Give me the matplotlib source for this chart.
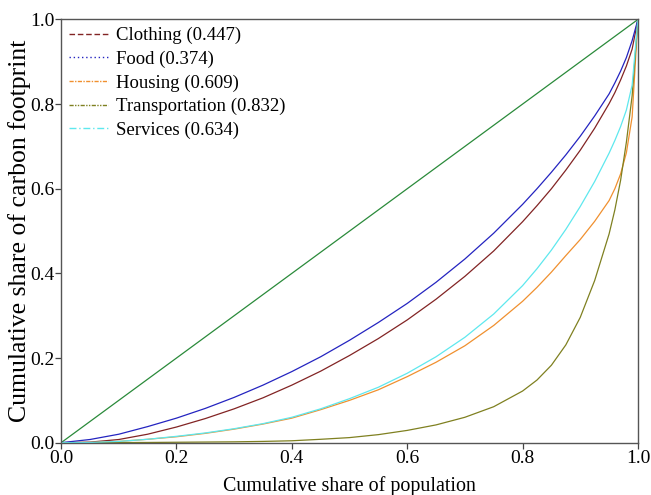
import matplotlib
matplotlib.use("Agg")
import matplotlib.pyplot as plt
from matplotlib.lines import Line2D

plt.rcParams['font.family'] = ['Liberation Serif', 'DejaVu Serif']

# cumulative share of population
pop_share = [0, 0.05, 0.1, 0.15, 0.2, 0.25, 0.3, 0.35, 0.4, 0.45, 0.5, 0.55, 0.6,
             0.65, 0.7, 0.75, 0.8, 0.825, 0.85, 0.875, 0.9, 0.925, 0.95,
             0.96, 0.97, 0.98, 0.99, 1.0]

clothing = [0, 0.0013, 0.0075, 0.020, 0.037, 0.057, 0.080, 0.106, 0.136, 0.169, 0.206, 0.246, 0.290,
            0.339, 0.393, 0.453, 0.522, 0.560, 0.600, 0.644, 0.691, 0.743, 0.801,
            0.827, 0.857, 0.890, 0.930, 1.0]
food = [0, 0.0075, 0.020, 0.038, 0.058, 0.081, 0.107, 0.136, 0.168, 0.203, 0.242, 0.284, 0.329,
        0.379, 0.434, 0.495, 0.563, 0.600, 0.639, 0.680, 0.724, 0.772, 0.824,
        0.850, 0.878, 0.910, 0.950, 1.0]
housing = [0, 0.0005, 0.003, 0.008, 0.014, 0.022, 0.032, 0.044, 0.058, 0.078, 0.100, 0.125, 0.156,
           0.190, 0.229, 0.277, 0.334, 0.367, 0.403, 0.442, 0.480, 0.523, 0.572,
           0.600, 0.635, 0.685, 0.770, 1.0]
transportation = [0, 0.0, 0.0002, 0.0005, 0.001, 0.0015, 0.002, 0.003, 0.0045, 0.008, 0.012, 0.019, 0.029,
                  0.042, 0.060, 0.085, 0.122, 0.148, 0.183, 0.231, 0.296, 0.383, 0.493,
                  0.550, 0.620, 0.710, 0.820, 1.0]
services = [0, 0.0005, 0.003, 0.008, 0.015, 0.023, 0.033, 0.045, 0.060, 0.080, 0.104, 0.131, 0.164,
            0.203, 0.249, 0.304, 0.371, 0.411, 0.455, 0.504, 0.558, 0.617, 0.684,
            0.714, 0.747, 0.786, 0.845, 1.0]

labels = ["Clothing (0.447)", "Food (0.374)", "Housing (0.609)",
          "Transportation (0.832)", "Services (0.634)"]
series = [clothing, food, housing, transportation, services]
colors = ["#822424", "#2424c0", "#f0902f", "#7f8020", "#5ee8ee"]
styles = [(0, (4, 2)), (0, (1, 2)), (0, (3, 1, 1, 1)),
          (0, (3, 1, 1, 1, 1, 1)), (0, (5, 2, 1, 2))]
ticks = [0.0, 0.2, 0.4, 0.6, 0.8, 1.0]

fig = plt.figure(figsize=(6.51, 4.95), dpi=100)
ax = fig.add_axes([0.0939, 0.1057, 0.886, 0.855])

ax.plot([0, 1], [0, 1], color="#2a8a3a", lw=0.9)
for s, c in zip(series, colors):
    ax.plot(pop_share, s, color=c, lw=0.9)

handles = [Line2D([], [], color=c, lw=1.0, linestyle=ls) for c, ls in zip(colors, styles)]
ax.legend(handles, labels, loc="upper left", frameon=False, fontsize=13.5,
          handlelength=2.1, handletextpad=0.45, labelspacing=0.34,
          borderaxespad=0.2, borderpad=0.2)

ax.set_xlim(0, 1)
ax.set_ylim(0, 1)
ax.set_xticks(ticks)
ax.set_yticks(ticks)
ax.set_xticklabels([f"{t:.1f}" for t in ticks])
ax.set_yticklabels([f"{t:.1f}" for t in ticks])
ax.tick_params(direction="out", length=4, width=0.9, labelsize=14, color="#444444", pad=1)
for sp in ax.spines.values():
    sp.set_color("#555555")
    sp.set_linewidth(1.0)

ax.set_xlabel("Cumulative share of population", fontsize=14.4, labelpad=7)
ax.set_ylabel("Cumulative share of carbon footprint", fontsize=18.5, labelpad=-1)

fig.savefig("out.png", dpi=100)
